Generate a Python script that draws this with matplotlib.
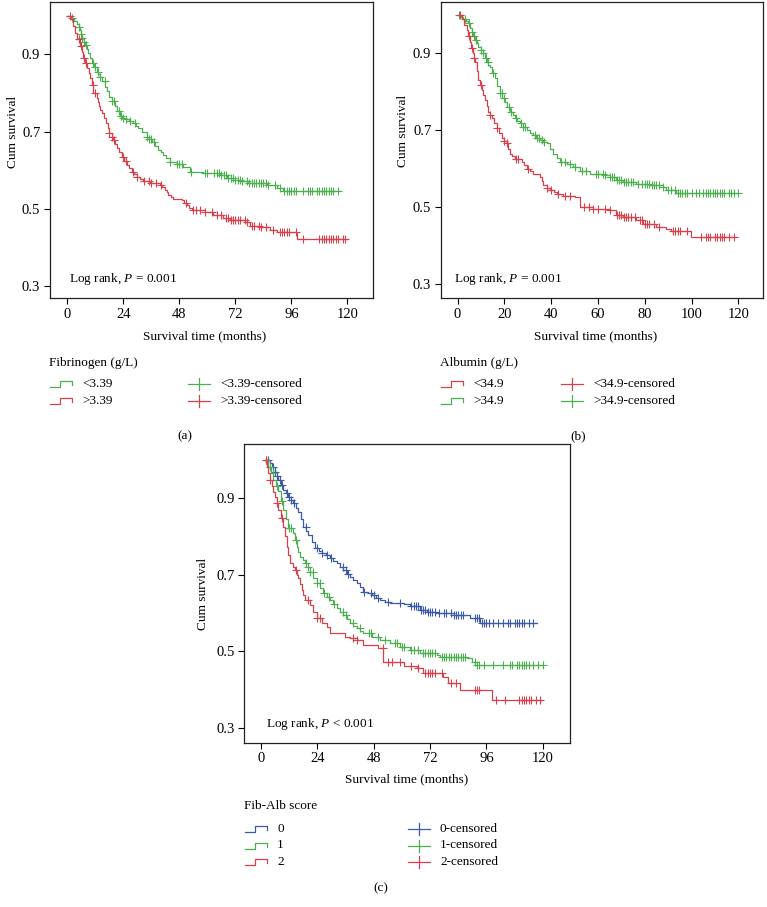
import numpy as np
import matplotlib
matplotlib.use("Agg")
import matplotlib.pyplot as plt
from matplotlib.lines import Line2D

plt.rcParams['font.family'] = ['Liberation Serif', 'DejaVu Serif']
plt.rcParams['mathtext.fontset'] = 'custom'
plt.rcParams['mathtext.rm'] = 'Liberation Serif'
plt.rcParams['mathtext.it'] = 'Liberation Serif:italic'

RED = '#d9404c'
GREEN = '#4cb050'
BLUE = '#3c5aa8'

# ---- panel (a): fibrinogen ----
fib_low_t = [0, 1, 2, 3, 4, 5, 5.5, 6, 6.5, 7, 7.6, 8.3, 9, 9.7, 10.4, 11.5, 12.6, 13.3, 14, 15,
             16.1, 17, 18, 19, 20.4, 21.5, 22.6, 23.5, 24.7, 26.5, 28.3, 29.4, 30.4, 32, 34, 35,
             36.1, 37.5, 39, 40, 41.1, 42.5, 44, 46.9, 49.7, 52.6, 58.3, 62.6, 65.4, 68.3, 71.1,
             74.7, 77.6, 85.4, 89.7, 92.6, 116.9]
fib_low_s = [1.0, 0.998, 0.993, 0.985, 0.978, 0.97, 0.962, 0.952, 0.942, 0.932, 0.924, 0.913,
             0.903, 0.89, 0.877, 0.866, 0.855, 0.848, 0.842, 0.83, 0.816, 0.804, 0.79, 0.778,
             0.765, 0.752, 0.739, 0.734, 0.732, 0.727, 0.721, 0.715, 0.709, 0.698, 0.687, 0.681,
             0.674, 0.663, 0.652, 0.646, 0.640, 0.631, 0.622, 0.616, 0.609, 0.596, 0.594, 0.592,
             0.588, 0.579, 0.575, 0.571, 0.566, 0.562, 0.553, 0.545, 0.545]
fib_low_c = [2, 5, 6, 6.5, 7, 8, 11, 12, 13, 14, 16, 19, 20, 22, 23, 24, 25, 27, 29, 34, 35, 36, 37,
             44, 47, 48, 49, 53, 59, 60, 63, 64, 65, 66, 67, 68, 69, 70, 71, 72, 73, 74, 75, 77, 78,
             79, 80, 81, 82, 83, 84, 85, 86, 89, 91, 93, 94, 95, 96, 97, 98, 101, 103, 104, 105,
             107, 108, 109, 110, 111, 112, 113, 114, 116]

fib_high_t = [0, 1.5, 2.6, 3.5, 4.3, 5.4, 6.1, 6.9, 7.7, 8.6, 9.2, 9.7, 10.4, 11.1, 12.6, 13.1, 13.6,
              14.2, 14.7, 15.6, 16.6, 17.3, 18, 19, 19.7, 20.5, 21.4, 22.3, 23.3, 24.3, 25.4, 26.5,
              27.6, 28.6, 29.7, 31, 32.6, 35.4, 39.7, 40.8, 41.9, 42.6, 43.3, 44.3, 45.4, 49, 50,
              51.1, 52.2, 53.3, 59, 62.6, 66.9, 69.7, 73.3, 76.1, 78.3, 82.6, 86.9, 89.7, 98.3, 119.7]
fib_high_s = [1.0, 0.99, 0.974, 0.955, 0.94, 0.92, 0.905, 0.89, 0.877, 0.864, 0.851, 0.838, 0.82,
              0.80, 0.786, 0.776, 0.766, 0.756, 0.747, 0.734, 0.721, 0.708, 0.696, 0.687, 0.678,
              0.668, 0.657, 0.646, 0.635, 0.624, 0.614, 0.605, 0.596, 0.59, 0.583, 0.577, 0.571,
              0.566, 0.562, 0.556, 0.549, 0.543, 0.536, 0.53, 0.525, 0.523, 0.516, 0.510, 0.503,
              0.497, 0.493, 0.484, 0.476, 0.471, 0.470, 0.465, 0.456, 0.452, 0.445, 0.439, 0.423,
              0.423]
fib_high_c = [1, 5, 6, 7, 8, 11, 12, 18, 19, 20, 24, 25, 28, 30, 33, 35, 36, 38, 40, 51, 54, 55, 57,
              59, 62, 64, 66, 68, 69, 70, 71, 72, 73, 74, 76, 77, 79, 80, 82, 83, 85, 88, 91, 92,
              93, 94, 95, 98, 101, 108, 109, 110, 111, 112, 113, 114, 115, 116, 118, 119]

# ---- panel (b): albumin ----
alb_high_t = [0.3, 1.3, 2.4, 3.5, 4.6, 5.3, 6, 6.7, 7.4, 8.1, 8.8, 9.9, 11, 11.7, 12.4, 13.1, 13.8,
              14.8, 15.9, 16.9, 18, 19.1, 20.2, 21.3, 22.4, 23.5, 24.5, 25.5, 26.6, 28, 29.5, 30.9,
              32.3, 33.7, 35.2, 36.6, 38, 39.5, 40.9, 42.3, 43.8, 46.6, 49.4, 52.3, 56.5, 62.2, 65,
              67.9, 70.7, 76.4, 82.1, 87.8, 89.2, 93.4, 120]
alb_high_s = [1.0, 0.996, 0.991, 0.985, 0.978, 0.967, 0.956, 0.945, 0.935, 0.926, 0.917, 0.908, 0.9,
              0.889, 0.878, 0.871, 0.865, 0.85, 0.835, 0.815, 0.796, 0.785, 0.774, 0.761, 0.748,
              0.739, 0.731, 0.724, 0.718, 0.709, 0.70, 0.693, 0.687, 0.68, 0.674, 0.67, 0.666,
              0.652, 0.639, 0.628, 0.618, 0.612, 0.605, 0.594, 0.587, 0.583, 0.579, 0.570, 0.566,
              0.561, 0.557, 0.553, 0.544, 0.537, 0.537]
alb_high_c = [0.5, 3, 5, 6, 7, 8, 10, 11, 12, 13, 15, 18, 19, 20, 22, 23, 25, 27, 28, 29, 33, 34, 35,
              36, 37, 44, 46, 48, 50, 53, 55, 59, 60, 62, 63, 65, 66, 67, 68, 69, 70, 71, 72, 73,
              74, 75, 77, 79, 80, 81, 82, 83, 84, 85, 86, 88, 90, 91, 93, 94, 95, 96, 97, 98, 100,
              102, 103, 105, 106, 107, 108, 109, 110, 111, 112, 113, 114, 116, 117, 118, 120]

alb_low_t = [0.3, 1.7, 2.7, 3.8, 4.6, 5.4, 5.9, 6.4, 6.9, 7.4, 8.1, 8.8, 9.5, 10.3, 11, 11.7, 12.4,
             13.1, 13.8, 14.5, 15.6, 16.7, 17.7, 18.8, 19.8, 20.9, 21.6, 22.4, 23.4, 24.5, 27.4,
             28.4, 29.5, 30.9, 32.3, 35.2, 36, 36.6, 38, 39.5, 41, 42.5, 45.2, 50.3, 52.3, 58, 65,
             67.9, 70.7, 76.4, 79.2, 84.9, 89.2, 91.3, 99.8, 119.2]
alb_low_s = [1.0, 0.99, 0.975, 0.96, 0.945, 0.93, 0.915, 0.9, 0.889, 0.878, 0.854, 0.83, 0.817,
             0.804, 0.791, 0.778, 0.763, 0.748, 0.74, 0.731, 0.718, 0.705, 0.692, 0.679, 0.672,
             0.666, 0.652, 0.639, 0.632, 0.626, 0.618, 0.609, 0.60, 0.593, 0.587, 0.579, 0.568,
             0.557, 0.55, 0.544, 0.54, 0.535, 0.528, 0.527, 0.50, 0.496, 0.492, 0.479, 0.473,
             0.466, 0.457, 0.448, 0.444, 0.438, 0.421, 0.421]
alb_low_c = [1, 5, 6, 7, 10, 14, 17, 20, 21, 25, 26, 30, 38, 40, 43, 46, 48, 54, 56, 58, 60, 63, 65,
             68, 69, 70, 71, 72, 73, 74, 76, 78, 79, 80, 81, 82, 84, 86, 92, 93, 94, 95, 98, 104,
             106, 107, 108, 110, 111, 112, 113, 114, 116, 118]

# ---- panel (c): Fib-Alb score ----
s0_t = [1.7, 3.8, 4.9, 6, 6.7, 7.4, 8.4, 9.5, 10.5, 11.6, 12.7, 13.8, 14.8, 15.9, 17, 18, 19.1, 20.2,
        21.6, 23, 24.5, 25.9, 27.7, 29.4, 30.8, 32.2, 33.6, 35.1, 36.5, 37.9, 39.3, 40.8, 42.2,
        43.6, 45.4, 47.2, 49, 50.7, 52.9, 55, 60.7, 63.5, 67.8, 70.6, 74.9, 82, 89, 93.3, 117.5]
s0_s = [1.0, 0.99, 0.98, 0.969, 0.958, 0.947, 0.934, 0.921, 0.912, 0.903, 0.895, 0.886, 0.875,
        0.864, 0.845, 0.825, 0.814, 0.803, 0.786, 0.769, 0.762, 0.756, 0.75, 0.743, 0.736, 0.730,
        0.721, 0.712, 0.703, 0.695, 0.686, 0.677, 0.667, 0.656, 0.651, 0.647, 0.64, 0.634, 0.629,
        0.625, 0.623, 0.617, 0.608, 0.603, 0.599, 0.595, 0.586, 0.575, 0.575]
s0_c = [3, 5, 6, 7, 8, 9, 11, 12, 13, 14, 19, 24, 26, 28, 30, 35, 36, 37, 44, 47, 48, 50, 54, 59,
        64, 65, 66, 67, 68, 69, 70, 71, 72, 73, 74, 76, 78, 79, 81, 82, 83, 84, 85, 86, 91, 92,
        93, 94, 95, 96, 97, 99, 101, 103, 105, 106, 108, 109, 110, 111, 112, 114, 116]

s1_t = [1.7, 3.1, 4.2, 5.3, 6.4, 7.4, 8.5, 9.5, 10.6, 11.6, 13.8, 14.5, 15.2, 15.9, 16.6, 17.7, 18.8,
        19.9, 20.9, 22.3, 23.7, 25.2, 26.6, 28, 29.4, 30.8, 32.2, 33.7, 35.1, 36.5, 37.9, 39.4,
        40.8, 42.2, 43.6, 47.2, 50.7, 55, 59.2, 63.5, 67.8, 74.9, 76.3, 87.6, 89.8, 91.2, 120.3]
s1_s = [1.0, 0.982, 0.965, 0.947, 0.932, 0.917, 0.893, 0.869, 0.845, 0.821, 0.808, 0.79, 0.773,
        0.76, 0.747, 0.738, 0.730, 0.719, 0.708, 0.692, 0.677, 0.664, 0.651, 0.642, 0.634, 0.623,
        0.612, 0.603, 0.595, 0.584, 0.573, 0.566, 0.560, 0.553, 0.547, 0.538, 0.530, 0.521,
        0.512, 0.503, 0.495, 0.490, 0.484, 0.482, 0.473, 0.464, 0.464]
s1_c = [2, 4, 5, 7, 9, 12, 13, 15, 19, 20, 21, 22, 24, 25, 27, 29, 31, 35, 36, 39, 42, 46, 47, 50,
        53, 57, 58, 60, 61, 64, 65, 67, 69, 70, 71, 72, 73, 74, 77, 78, 79, 80, 81, 82, 83, 84,
        85, 86, 87, 91, 92, 93, 95, 99, 103, 106, 107, 109, 110, 111, 112, 113, 114, 116, 118, 120]

s2_t = [1.7, 2.4, 3.1, 3.8, 4.5, 5.3, 6, 6.7, 7.4, 8.5, 9.5, 10.2, 10.9, 11.7, 12.4, 13.5, 14.5,
        15.2, 15.9, 16.6, 17.3, 18.1, 18.8, 20.9, 22.3, 23.7, 25.9, 28, 29.4, 35.8, 37.9, 40.8,
        43.6, 50, 52.1, 60.7, 66.3, 69.2, 77.7, 79.8, 84.8, 98.3, 119.6]
s2_s = [1.0, 0.982, 0.964, 0.947, 0.93, 0.916, 0.903, 0.886, 0.869, 0.847, 0.825, 0.80, 0.773,
        0.751, 0.730, 0.721, 0.712, 0.70, 0.690, 0.675, 0.660, 0.647, 0.634, 0.621, 0.603, 0.586,
        0.575, 0.564, 0.547, 0.538, 0.534, 0.530, 0.517, 0.508, 0.473, 0.462, 0.456, 0.443,
        0.434, 0.417, 0.399, 0.373, 0.373]
s2_c = [2, 4, 7, 9, 15, 20, 24, 25, 39, 41, 52, 54, 56, 59, 64, 67, 70, 71, 72, 73, 74, 77, 81, 83,
        91, 92, 93, 100, 104, 110, 111, 112, 113, 114, 115, 117, 119]

W, H = 767, 907


def fx(x):
    return x / W


def fy(y):
    return 1 - y / H


def km(ax, t, s, cens, color):
    t = np.array(t)
    s = np.array(s)
    ax.step(t, s, where='post', color=color, lw=0.9)
    c = np.array(cens, dtype=float)
    idx = np.clip(np.searchsorted(t, c, side='right') - 1, 0, len(s) - 1)
    ax.plot(c, s[idx], ls='none', marker='+', color=color, ms=5.5, mew=0.8)


def style(ax, xticks, xlim, ylim):
    ax.set_xlim(*xlim)
    ax.set_ylim(*ylim)
    ax.set_xticks(xticks)
    ax.set_yticks([0.3, 0.5, 0.7, 0.9])
    ax.set_yticklabels(['0.3', '0.5', '0.7', '0.9'])
    ax.tick_params(direction='out', length=4, width=0.8, labelsize=10.5, pad=3)
    for sp in ax.spines.values():
        sp.set_linewidth(0.9)
        sp.set_color('#222222')


def step_icon(fig, x0, yc, color):
    xs = [x0, x0 + 10, x0 + 10, x0 + 22, x0 + 22]
    ys = [yc + 3, yc + 3, yc - 3, yc - 3, yc + 1]
    fig.add_artist(Line2D([fx(v) for v in xs], [fy(v) for v in ys], color=color, lw=0.9))


def cross_icon(fig, x0, yc, color):
    fig.add_artist(Line2D([fx(x0), fx(x0 + 22)], [fy(yc), fy(yc)], color=color, lw=0.9))
    fig.add_artist(Line2D([fx(x0 + 11), fx(x0 + 11)], [fy(yc - 6), fy(yc + 6)], color=color, lw=0.9))


def legend(fig, title, x, ytitle, rows, xcol2):
    fig.text(fx(x), fy(ytitle), title, fontsize=9.5, va='center', ha='left')
    for yc, (lab, color) in zip(rows[0], rows[1]):
        step_icon(fig, x + 1, yc, color)
        fig.text(fx(x + 33), fy(yc), lab, fontsize=9.5, va='center', ha='left')
        cross_icon(fig, xcol2, yc, color)
        fig.text(fx(xcol2 + 32), fy(yc), lab + '-censored', fontsize=9.5, va='center', ha='left')


fig = plt.figure(figsize=(W / 100, H / 100), dpi=100)

# panel a
axa = fig.add_axes([fx(50), fy(298), fx(323), 296 / H])
km(axa, fib_low_t, fib_low_s, fib_low_c, GREEN)
km(axa, fib_high_t, fib_high_s, fib_high_c, RED)
style(axa, [0, 24, 48, 72, 96, 120], (-7.4, 131.0), (0.2695, 1.035))
axa.text(0.058, 0.064, 'Log rank, $P$ = 0.001', transform=axa.transAxes, fontsize=9.5, va='center')

# panel b
axb = fig.add_axes([fx(441), fy(298), fx(321.7), 296 / H])
km(axb, alb_high_t, alb_high_s, alb_high_c, GREEN)
km(axb, alb_low_t, alb_low_s, alb_low_c, RED)
style(axb, [0, 20, 40, 60, 80, 100, 120], (-7.1, 130.4), (0.263, 1.034))
axb.text(0.04, 0.064, 'Log rank, $P$ = 0.001', transform=axb.transAxes, fontsize=9.5, va='center')

# panel c
axc = fig.add_axes([fx(244.3), fy(742.7), fx(325.7), 298.4 / H])
km(axc, s0_t, s0_s, s0_c, BLUE)
km(axc, s1_t, s1_s, s1_c, GREEN)
km(axc, s2_t, s2_s, s2_c, RED)
style(axc, [0, 24, 48, 72, 96, 120], (-7.1, 131.6), (0.2617, 1.040))
axc.text(0.067, 0.063, 'Log rank, $P$ < 0.001', transform=axc.transAxes, fontsize=9.5, va='center')

# axis labels
fig.text(fx(205), fy(336), 'Survival time (months)', fontsize=9.5, ha='center', va='center')
fig.text(fx(596), fy(336), 'Survival time (months)', fontsize=9.5, ha='center', va='center')
fig.text(fx(407), fy(779), 'Survival time (months)', fontsize=9.5, ha='center', va='center')
fig.text(fx(13), fy(132), 'Cum survival', fontsize=9.5, ha='center', va='center', rotation=90)
fig.text(fx(403), fy(131), 'Cum survival', fontsize=9.5, ha='center', va='center', rotation=90)
fig.text(fx(203), fy(594), 'Cum survival', fontsize=9.5, ha='center', va='center', rotation=90)

# legends
legend(fig, 'Fibrinogen (g/L)', 49, 363, ([384, 401], [('<3.39', GREEN), ('>3.39', RED)]), 188)
legend(fig, 'Albumin (g/L)', 440, 363, ([384, 401], [('<34.9', RED), ('>34.9', GREEN)]), 561)
legend(fig, 'Fib-Alb score', 244, 806, ([829, 845.5, 862], [('0', BLUE), ('1', GREEN), ('2', RED)]), 408)

# panel tags
fig.text(fx(185), fy(436), '(a)', fontsize=9.5, ha='center', va='center')
fig.text(fx(578), fy(436), '(b)', fontsize=9.5, ha='center', va='center')
fig.text(fx(381), fy(888), '(c)', fontsize=9.5, ha='center', va='center')

fig.savefig('out.png', dpi=100)
